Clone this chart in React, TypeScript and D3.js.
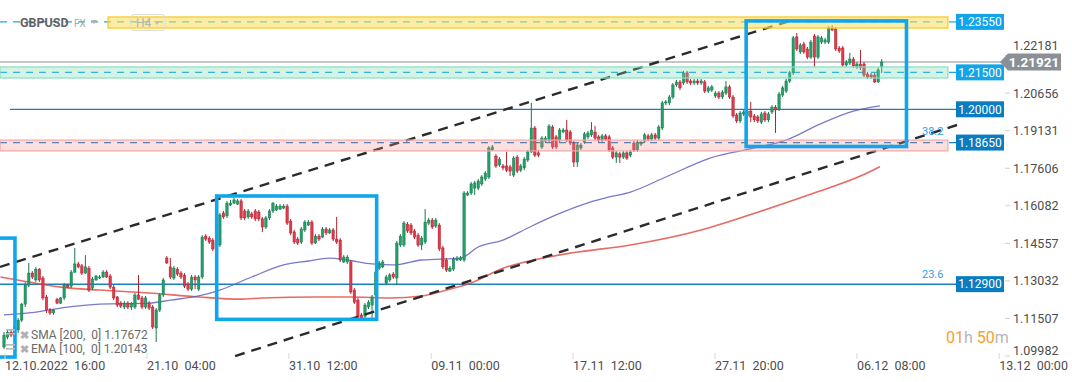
import React from "react";
import * as d3 from "d3";

const W = 1072;
const H = 382;

// [open, high, low, close]
const candles: [number, number, number, number][] = [
  [1.1035,1.1095,1.1026,1.1083],[1.1075,1.1104,1.1067,1.1095],[1.1095,1.1104,1.1075,1.1083],[1.1079,1.1128,1.1071,1.1120],
  [1.1104,1.1152,1.1091,1.1144],[1.1144,1.1213,1.1136,1.1209],[1.1209,1.1298,1.1197,1.1286],[1.1286,1.1376,1.1278,1.1335],
  [1.1335,1.1343,1.1311,1.1319],[1.1307,1.1359,1.1299,1.1351],[1.1351,1.1355,1.1299,1.1307],[1.1315,1.1323,1.1225,1.1234],
  [1.1238,1.1246,1.1173,1.1185],[1.1185,1.1193,1.1165,1.1173],[1.1173,1.1189,1.1165,1.1185],[1.1229,1.1234,1.1209,1.1213],
  [1.1213,1.1238,1.1209,1.1234],[1.1234,1.1294,1.1225,1.1286],[1.1286,1.1290,1.1274,1.1278],[1.1282,1.1347,1.1274,1.1339],
  [1.1339,1.1437,1.1335,1.1372],[1.1372,1.1380,1.1355,1.1360],[1.1364,1.1372,1.1327,1.1335],[1.1335,1.1408,1.1331,1.1360],
  [1.1355,1.1364,1.1258,1.1266],[1.1274,1.1319,1.1266,1.1311],[1.1307,1.1327,1.1303,1.1323],[1.1315,1.1327,1.1311,1.1319],
  [1.1319,1.1347,1.1315,1.1339],[1.1339,1.1347,1.1315,1.1319],[1.1323,1.1331,1.1270,1.1278],[1.1278,1.1286,1.1225,1.1234],
  [1.1238,1.1242,1.1197,1.1205],[1.1213,1.1221,1.1193,1.1201],[1.1197,1.1221,1.1189,1.1213],[1.1213,1.1221,1.1189,1.1197],
  [1.1197,1.1217,1.1185,1.1213],[1.1197,1.1254,1.1189,1.1246],[1.1246,1.1327,1.1225,1.1229],[1.1234,1.1242,1.1189,1.1197],
  [1.1197,1.1242,1.1189,1.1234],[1.1213,1.1221,1.1185,1.1193],[1.1197,1.1205,1.1108,1.1116],[1.1112,1.1193,1.1055,1.1185],
  [1.1185,1.1254,1.1177,1.1246],[1.1246,1.1315,1.1238,1.1307],[1.1396,1.1404,1.1372,1.1376],[1.1360,1.1396,1.1311,1.1319],
  [1.1315,1.1364,1.1307,1.1355],[1.1351,1.1359,1.1323,1.1331],[1.1335,1.1343,1.1311,1.1319],[1.1327,1.1335,1.1274,1.1282],
  [1.1290,1.1299,1.1262,1.1270],[1.1270,1.1327,1.1262,1.1319],[1.1319,1.1327,1.1270,1.1307],[1.1270,1.1327,1.1262,1.1319],
  [1.1319,1.1489,1.1311,1.1481],[1.1485,1.1493,1.1465,1.1473],[1.1477,1.1485,1.1453,1.1461],[1.1469,1.1477,1.1424,1.1433],
  [1.1437,1.1465,1.1429,1.1457],[1.1449,1.1579,1.1441,1.1571],[1.1579,1.1587,1.1555,1.1563],[1.1567,1.1628,1.1559,1.1619],
  [1.1611,1.1632,1.1607,1.1619],[1.1619,1.1640,1.1615,1.1632],[1.1615,1.1636,1.1611,1.1628],[1.1628,1.1636,1.1550,1.1559],
  [1.1587,1.1595,1.1550,1.1559],[1.1563,1.1595,1.1555,1.1587],[1.1575,1.1583,1.1555,1.1563],[1.1587,1.1595,1.1546,1.1555],
  [1.1583,1.1591,1.1546,1.1555],[1.1555,1.1563,1.1502,1.1522],[1.1522,1.1567,1.1514,1.1559],[1.1559,1.1595,1.1550,1.1587],
  [1.1587,1.1624,1.1579,1.1619],[1.1591,1.1615,1.1587,1.1607],[1.1595,1.1615,1.1591,1.1607],[1.1599,1.1615,1.1595,1.1607],
  [1.1607,1.1615,1.1530,1.1538],[1.1546,1.1555,1.1489,1.1498],[1.1502,1.1510,1.1453,1.1461],[1.1473,1.1481,1.1449,1.1457],
  [1.1461,1.1522,1.1453,1.1514],[1.1510,1.1550,1.1502,1.1542],[1.1530,1.1550,1.1526,1.1542],[1.1542,1.1550,1.1449,1.1457],
  [1.1457,1.1493,1.1453,1.1485],[1.1485,1.1493,1.1465,1.1473],[1.1481,1.1522,1.1477,1.1514],[1.1514,1.1522,1.1489,1.1498],
  [1.1498,1.1518,1.1494,1.1510],[1.1510,1.1518,1.1465,1.1473],[1.1473,1.1563,1.1453,1.1461],[1.1469,1.1477,1.1380,1.1388],
  [1.1380,1.1408,1.1376,1.1400],[1.1380,1.1408,1.1372,1.1400],[1.1380,1.1388,1.1250,1.1258],[1.1266,1.1274,1.1209,1.1217],
  [1.1225,1.1234,1.1152,1.1156],[1.1165,1.1173,1.1144,1.1152],[1.1160,1.1213,1.1152,1.1205],[1.1197,1.1225,1.1189,1.1217],
  [1.1205,1.1246,1.1152,1.1238],[1.1246,1.1355,1.1225,1.1339],[1.1355,1.1384,1.1347,1.1376],[1.1360,1.1388,1.1355,1.1380],
  [1.1294,1.1327,1.1286,1.1319],[1.1307,1.1335,1.1299,1.1327],[1.1331,1.1339,1.1311,1.1319],[1.1315,1.1465,1.1286,1.1457],
  [1.1449,1.1493,1.1441,1.1485],[1.1449,1.1546,1.1441,1.1538],[1.1534,1.1542,1.1498,1.1506],[1.1530,1.1538,1.1489,1.1498],
  [1.1506,1.1514,1.1473,1.1481],[1.1489,1.1498,1.1441,1.1449],[1.1449,1.1485,1.1429,1.1477],[1.1461,1.1595,1.1453,1.1542],
  [1.1538,1.1559,1.1530,1.1550],[1.1550,1.1559,1.1514,1.1522],[1.1526,1.1559,1.1518,1.1550],[1.1530,1.1538,1.1424,1.1433],
  [1.1437,1.1445,1.1351,1.1360],[1.1388,1.1396,1.1339,1.1347],[1.1343,1.1364,1.1339,1.1355],[1.1351,1.1400,1.1343,1.1392],
  [1.1388,1.1404,1.1384,1.1396],[1.1388,1.1404,1.1384,1.1396],[1.1388,1.1668,1.1380,1.1660],[1.1652,1.1668,1.1648,1.1660],
  [1.1660,1.1705,1.1652,1.1697],[1.1680,1.1709,1.1652,1.1701],[1.1680,1.1717,1.1672,1.1709],[1.1697,1.1733,1.1689,1.1725],
  [1.1717,1.1749,1.1709,1.1741],[1.1725,1.1851,1.1717,1.1843],[1.1835,1.1855,1.1831,1.1847],[1.1810,1.1818,1.1762,1.1770],
  [1.1774,1.1806,1.1766,1.1798],[1.1770,1.1778,1.1753,1.1762],[1.1770,1.1827,1.1745,1.1753],[1.1766,1.1774,1.1729,1.1749],
  [1.1733,1.1810,1.1725,1.1802],[1.1806,1.1814,1.1741,1.1749],[1.1753,1.1778,1.1745,1.1770],[1.1762,1.1806,1.1753,1.1798],
  [1.1794,1.1835,1.1786,1.1827],[1.1827,1.2026,1.1823,1.1924],[1.1924,1.1932,1.1806,1.1814],[1.1823,1.1835,1.1806,1.1814],
  [1.1847,1.1891,1.1839,1.1883],[1.1871,1.1891,1.1863,1.1883],[1.1875,1.1940,1.1867,1.1932],[1.1928,1.1936,1.1839,1.1847],
  [1.1888,1.1896,1.1839,1.1847],[1.1875,1.1924,1.1867,1.1916],[1.1908,1.1924,1.1904,1.1916],[1.1916,1.1957,1.1867,1.1875],
  [1.1908,1.1916,1.1855,1.1863],[1.1863,1.1871,1.1766,1.1786],[1.1786,1.1863,1.1766,1.1855],[1.1843,1.1863,1.1835,1.1855],
  [1.1867,1.1908,1.1859,1.1900],[1.1888,1.1912,1.1879,1.1904],[1.1896,1.1948,1.1888,1.1916],[1.1908,1.1932,1.1875,1.1883],
  [1.1888,1.1896,1.1867,1.1875],[1.1875,1.1900,1.1867,1.1892],[1.1892,1.1900,1.1871,1.1879],[1.1888,1.1896,1.1827,1.1835],
  [1.1843,1.1851,1.1798,1.1806],[1.1806,1.1831,1.1782,1.1823],[1.1819,1.1827,1.1782,1.1806],[1.1806,1.1831,1.1798,1.1823],
  [1.1823,1.1831,1.1794,1.1802],[1.1814,1.1835,1.1806,1.1827],[1.1863,1.1871,1.1827,1.1835],[1.1835,1.1875,1.1827,1.1867],
  [1.1859,1.1871,1.1851,1.1863],[1.1871,1.1904,1.1863,1.1896],[1.1892,1.1900,1.1871,1.1879],[1.1879,1.1904,1.1871,1.1896],
  [1.1896,1.1904,1.1875,1.1883],[1.1883,1.1936,1.1875,1.1928],[1.1924,1.2034,1.1916,1.2026],[1.2026,1.2038,1.2017,1.2030],
  [1.2026,1.2058,1.2017,1.2050],[1.2050,1.2107,1.2042,1.2099],[1.2099,1.2119,1.2091,1.2111],[1.2111,1.2119,1.2078,1.2087],
  [1.2107,1.2156,1.2099,1.2148],[1.2148,1.2156,1.2103,1.2111],[1.2115,1.2123,1.2099,1.2107],[1.2107,1.2123,1.2099,1.2115],
  [1.2115,1.2123,1.2099,1.2107],[1.2107,1.2123,1.2099,1.2115],[1.2111,1.2119,1.2066,1.2074],[1.2074,1.2095,1.2066,1.2087],
  [1.2078,1.2099,1.2070,1.2091],[1.2054,1.2074,1.2046,1.2066],[1.2066,1.2074,1.2042,1.2050],[1.2050,1.2078,1.2042,1.2070],
  [1.2066,1.2115,1.2058,1.2091],[1.2091,1.2099,1.2042,1.2050],[1.2050,1.2058,1.1965,1.1973],[1.1977,1.1985,1.1944,1.1953],
  [1.1953,1.1993,1.1944,1.1985],[1.1981,1.1997,1.1973,1.1989],[1.1973,1.2001,1.1965,1.1993],[1.1993,1.2030,1.1948,1.1969],
  [1.1973,1.1981,1.1948,1.1957],[1.1969,1.1977,1.1944,1.1953],[1.1948,1.1989,1.1940,1.1981],[1.1985,1.1993,1.1948,1.1957],
  [1.1957,1.1989,1.1948,1.1981],[1.1989,1.2017,1.1981,1.2009],[1.2009,1.2017,1.1904,1.1997],[1.2001,1.2070,1.1993,1.2062],
  [1.2058,1.2095,1.2050,1.2087],[1.2074,1.2123,1.2066,1.2115],[1.2115,1.2156,1.2107,1.2148],[1.2148,1.2298,1.2139,1.2290],
  [1.2294,1.2310,1.2237,1.2245],[1.2233,1.2269,1.2225,1.2261],[1.2265,1.2273,1.2225,1.2233],[1.2245,1.2253,1.2204,1.2212],
  [1.2212,1.2282,1.2204,1.2273],[1.2298,1.2306,1.2172,1.2212],[1.2212,1.2302,1.2204,1.2294],[1.2273,1.2298,1.2265,1.2290],
  [1.2273,1.2290,1.2265,1.2282],[1.2273,1.2338,1.2265,1.2330],[1.2330,1.2342,1.2318,1.2322],[1.2326,1.2334,1.2237,1.2245],
  [1.2249,1.2257,1.2229,1.2237],[1.2249,1.2257,1.2172,1.2180],[1.2180,1.2200,1.2172,1.2192],[1.2188,1.2229,1.2180,1.2204],
  [1.2204,1.2212,1.2168,1.2176],[1.2172,1.2192,1.2164,1.2184],[1.2184,1.2241,1.2160,1.2168],[1.2184,1.2192,1.2131,1.2139],
  [1.2143,1.2151,1.2123,1.2131],[1.2139,1.2147,1.2123,1.2131],[1.2139,1.2147,1.2107,1.2111],[1.2111,1.2168,1.2107,1.2160],
  [1.2172,1.2204,1.2147,1.2192],
];

// moving averages: [bar index, value]
const emaPoints: [number, number][] = [
  [0,1.1165],[7,1.1173],[16,1.1193],[27,1.1209],[41,1.1213],[47,1.1225],[55,1.1242],[61,1.1266],[70,1.1319],
  [79,1.1368],[86,1.1384],[92,1.1396],[97,1.1388],[104,1.1372],[110,1.1368],[118,1.1388],[129,1.1396],[134,1.1441],
  [141,1.1469],[148,1.1518],[156,1.1571],[165,1.1620],[171,1.1644],[177,1.1664],[187,1.1725],[199.5,1.1802],
  [212,1.1843],[221,1.1875],[230.5,1.1940],[240,1.1993],[247.5,1.2014],
];
const smaPoints: [number, number][] = [
  [-1,1.1319],[7,1.1299],[16,1.1278],[27,1.1266],[41,1.1254],[55,1.1238],[67,1.1229],[73,1.1234],[88,1.1238],
  [98,1.1238],[109,1.1234],[118,1.1242],[125,1.1266],[132,1.1295],[141,1.1355],[151,1.1392],[160,1.1416],
  [177,1.1449],[197,1.1510],[214,1.1587],[230.5,1.1668],[242,1.1729],[247.5,1.1767],
];

const priceTicks = [1.22181, 1.20656, 1.19131, 1.17606, 1.16082, 1.14557, 1.13032, 1.11507, 1.09982];
const timeTickIdx = [0.3, 40.4, 80.5, 120.7, 160.8, 200.9, 241.0, 281.2];
const timeTickLabels = ["12.10.2022  16:00", "21.10  04:00", "31.10  12:00", "09.11  00:00", "17.11  12:00", "27.11  20:00", "06.12  08:00", "13.12  00:00"];

const levelPrices = [1.2355, 1.215, 1.2, 1.1865, 1.129];
const levelLabels = ["1.23550", "1.21500", "1.20000", "1.18650", "1.12900"];
const levelDashed = [true, true, false, true, false];
const levelLight = [true, true, false, false, false];

// zones: [startIdx, endIdx, topPrice, bottomPrice]
const zones: [number, number, number, number][] = [
  [29.4, 266.7, 1.2375, 1.2330],
  [-3, 266.7, 1.2172, 1.2127],
  [-3, 266.7, 1.1875, 1.1831],
];
const zoneColors = ["yellow", "green", "pink"];

// channel lines: [[idx, price], [idx, price]]
const channelUpper: [number, number][] = [[-1.13, 1.1360], [222.1, 1.2359]];
const channelLower: [number, number][] = [[65.3, 1.0998], [270.1, 1.1940]];

// highlight boxes: [idx0, idx1, priceTop, priceBottom]
const boxes: [number, number, number, number][] = [
  [-8, 3.1, 1.1477, 1.0994],
  [60.1, 105.3, 1.1648, 1.1147],
  [209.7, 255.0, 1.2359, 1.1849],
];

const fibLabels = ["38.2", "23.6"];
const fibPrices = [1.1895, 1.1315];

const lastPrice = 1.21921;
const smaLast = "1.17672";
const emaLast = "1.20143";

export default function App() {
  const x = d3.scaleLinear().domain([0, candles.length - 1]).range([4, 881.7]);
  const y = d3.scaleLinear().domain([1.09982, 1.22181]).range([356.0, 55.6]);
  const line = d3.line<[number, number]>().x((d) => x(d[0])).y((d) => y(d[1])).curve(d3.curveMonotoneX);
  const font = "Roboto, 'Noto Sans', Arial, sans-serif";
  const green = "#23a06a";
  const greenDark = "#17794d";
  const red = "#e03a4c";
  const redDark = "#b1202f";
  const zoneFill: Record<string, string> = {
    yellow: "rgba(252,222,90,0.55)",
    green: "rgba(110,215,175,0.30)",
    pink: "rgba(245,140,140,0.28)",
  };
  const zoneStroke: Record<string, string> = { yellow: "#f5c924", green: "#8edcc0", pink: "#f3a7a7" };
  const bw = 2.4;
  const labelX = 956;
  const labelW = 48;
  const yLast = y(lastPrice);

  return (
    <svg width={W} height={H} style={{ position: "absolute", left: 0, top: 0, background: "#fff" }} fontFamily={font}>
      <rect x={0} y={0} width={W} height={H} fill="#fff" />

      {/* horizontal level lines */}
      {levelPrices.map((p, i) => (
        <line key={"lv" + i} x1={i === 2 ? 10 : 0} x2={labelX} y1={y(p)} y2={y(p)}
          stroke={levelLight[i] ? "#1ea7e8" : "#1a7fc0"} strokeWidth={i === 4 ? 1.5 : 1.2}
          strokeDasharray={levelDashed[i] ? "7,6" : undefined} />
      ))}
      {/* current price line */}
      <line x1={0} x2={1002} y1={yLast} y2={yLast} stroke="#8c9298" strokeWidth={1.2} />

      {/* moving averages */}
      <path d={line(smaPoints) || ""} fill="none" stroke="#e2453c" strokeOpacity={0.8} strokeWidth={1.6} />
      <path d={line(emaPoints) || ""} fill="none" stroke="#5757bd" strokeOpacity={0.8} strokeWidth={1.3} />

      {/* candles */}
      {candles.map(([o, h, l, c], i) => {
        const up = c >= o;
        const cx = x(i);
        const top = y(Math.max(o, c));
        const bh = Math.max(1, y(Math.min(o, c)) - top);
        return (
          <g key={"c" + i}>
            <line x1={cx} x2={cx} y1={y(h)} y2={y(l)} stroke={up ? greenDark : redDark} strokeWidth={1} />
            <rect x={cx - bw / 2} y={top} width={bw} height={bh} fill={up ? green : red}
              stroke={up ? greenDark : redDark} strokeWidth={0.5} />
          </g>
        );
      })}

      {/* channel lines */}
      {[channelUpper, channelLower].map((ln, i) => (
        <line key={"ch" + i} x1={x(ln[0][0])} y1={y(ln[0][1])} x2={x(ln[1][0])} y2={y(ln[1][1])}
          stroke="#2b2b2b" strokeWidth={2.4} strokeDasharray="10,7" />
      ))}

      {/* zones */}
      {zones.map(([i0, i1, pt, pb], i) => (
        <rect key={"z" + i} x={Math.max(0, x(i0))} y={y(pt)} width={x(i1) - Math.max(0, x(i0))} height={y(pb) - y(pt)}
          fill={zoneFill[zoneColors[i]]} stroke={zoneStroke[zoneColors[i]]} strokeWidth={1.2} />
      ))}

      {/* blue highlight boxes */}
      {boxes.map(([i0, i1, pt, pb], i) => (
        <rect key={"bx" + i} x={x(i0)} y={y(pt)} width={x(i1) - x(i0)} height={y(pb) - y(pt)}
          fill="none" stroke="#10a6ec" strokeWidth={3.6} />
      ))}

      {/* fib labels */}
      {fibLabels.map((t, i) => (
        <text key={"fb" + i} x={922} y={y(fibPrices[i])} fontSize={11} fill="#2fa0e6">{t}</text>
      ))}

      {/* price axis ticks */}
      {priceTicks.map((p, i) => {
        let ty = Math.min(y(p), 351);
        if (Math.abs(ty - yLast) < 15) ty = yLast - 16;
        return (
          <g key={"pt" + i}>
            <line x1={1005} x2={1010} y1={y(p)} y2={y(p)} stroke="#cfcfcf" strokeWidth={1} />
            <text x={1013} y={ty} dy="0.35em" fontSize={12.5} fill="#4d4d4d">{p.toFixed(5)}</text>
          </g>
        );
      })}

      {/* level labels */}
      {levelPrices.map((p, i) => (
        <g key={"ll" + i}>
          <rect x={labelX} y={y(p) - 8} width={labelW} height={16} fill={levelLight[i] ? "#12a5ea" : "#0a7cc0"} />
          <text x={labelX + labelW / 2} y={y(p)} dy="0.36em" textAnchor="middle" fontSize={12} fill="#fff">{levelLabels[i]}</text>
        </g>
      ))}

      {/* last price label */}
      <path d={`M${1000},${yLast} L${1008},${yLast - 8.5} L${1061},${yLast - 8.5} L${1061},${yLast + 8.5} L${1008},${yLast + 8.5} Z`}
        fill="#8a9096" />
      <text x={1034} y={yLast} dy="0.36em" textAnchor="middle" fontSize={13.5} fontWeight={700} fill="#fff">
        {lastPrice.toFixed(5)}
      </text>

      {/* time axis */}
      {timeTickIdx.map((ti, i) => (
        <g key={"tt" + i}>
          <line x1={x(ti)} x2={x(ti)} y1={353} y2={359} stroke="#d8d8d8" strokeWidth={1} />
          <text x={x(ti)} y={370} fontSize={12.5} fill="#4d4d4d" style={{ whiteSpace: "pre" }}>{timeTickLabels[i]}</text>
        </g>
      ))}

      {/* top-left instrument header */}
      <text x={20} y={27} fontSize={12.5} fontWeight={700} fill="#4a4a4a" opacity={0.85}>GBPUSD</text>
      <text x={74} y={27} fontSize={10} fill="#a8a8a8">FX</text>
      <path d="M91,20 L97,20 L94,24 Z" fill="#b0b0b0" />
      <rect x={131} y={14.5} width={34} height={16} rx={3} fill="none" stroke="#dcdcdc" />
      <text x={136} y={27} fontSize={12} fill="#b3b3b3">H4</text>
      <path d="M154,21 L160,21 L157,25 Z" fill="#c0c0c0" />

      {/* indicator legend */}
      <g>
        <rect x={6} y={329} width={9} height={1.6} fill="#b8b8b8" />
        <rect x={6} y={333} width={9} height={1.6} fill="#b8b8b8" />
        <rect x={6} y={344} width={9} height={1.6} fill="#b8b8b8" />
        <rect x={6} y={348} width={9} height={1.6} fill="#b8b8b8" />
        <text x={20} y={339} fontSize={11} fontWeight={700} fill="#b0b0b0">✖</text>
        <text x={20} y={353} fontSize={11} fontWeight={700} fill="#b0b0b0">✖</text>
        <text x={31} y={339} fontSize={12} fill="#6a6a6a" style={{ whiteSpace: "pre" }}>{`SMA [200,  0] ${smaLast}`}</text>
        <text x={31} y={353} fontSize={12} fill="#6a6a6a" style={{ whiteSpace: "pre" }}>{`EMA [100,  0] ${emaLast}`}</text>
      </g>

      {/* countdown */}
      <text x={946} y={343} fontSize={16}>
        <tspan fill="#f6a12a">01</tspan>
        <tspan fill="#b5b5b5">h </tspan>
        <tspan fill="#f6a12a">50</tspan>
        <tspan fill="#b5b5b5">m</tspan>
      </text>
    </svg>
  );
}
